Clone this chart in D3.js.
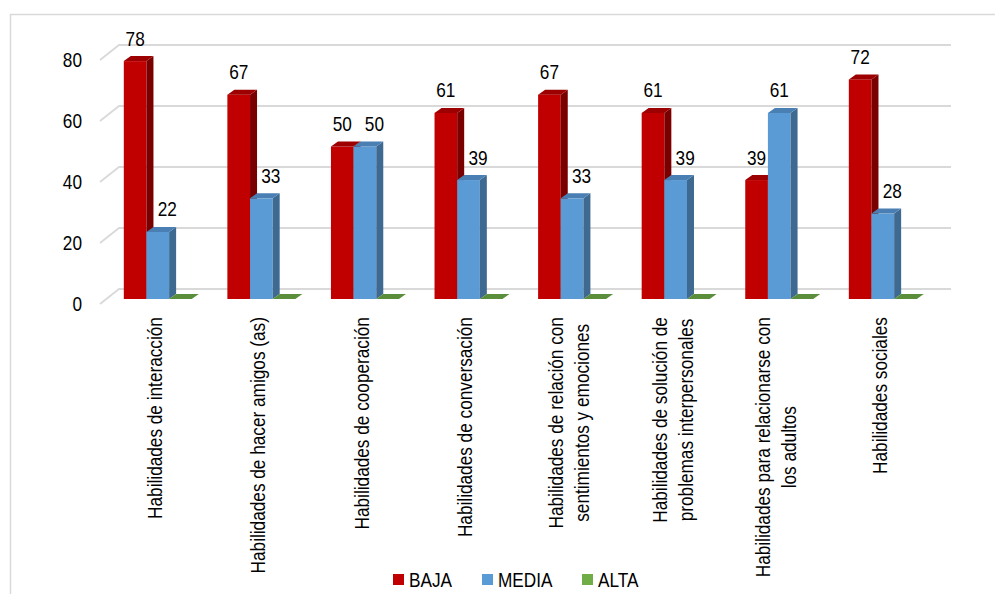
<!DOCTYPE html>
<html>
<head>
<meta charset="utf-8"/>
<script src="https://cdn.jsdelivr.net/npm/d3@7"></script>
<title>Habilidades sociales</title>
<style>
body { margin: 0; background: #fff; }
text { font-family: "Liberation Sans", Arial, sans-serif; font-size: 21px; fill: #000; }
</style>
</head>
<body>
<script>
// data
var categories = [
  ["Habilidades de interacción"],
  ["Habilidades de hacer amigos (as)"],
  ["Habilidades de cooperación"],
  ["Habilidades de conversación"],
  ["Habilidades de relación con", "sentimientos y emociones"],
  ["Habilidades de solución de", "problemas interpersonales"],
  ["Habilidades para relacionarse con", "los adultos"],
  ["Habilidades sociales"]
];
var series = ["BAJA", "MEDIA", "ALTA"];
var baja  = [78, 67, 50, 61, 67, 61, 39, 72];
var media = [22, 33, 50, 39, 33, 39, 61, 28];
var alta  = [0, 0, 0, 0, 0, 0, 0, 0];
var yTicks = [0, 20, 40, 60, 80];

var values = [baja, media, alta];
var faces = {
  BAJA:  { front: "#C00000", side: "#7A0000", top: "#9C0000" },
  MEDIA: { front: "#5B9BD5", side: "#3E6A91", top: "#4A7FB3" },
  ALTA:  { front: "#70AD47", side: "#4E7A31", top: "#5B8E3A" }
};

// the original font is a narrow sans; squeeze Liberation Sans along the text
var narrow = 0.82;
function tf(x, y, rot) {
  return "translate(" + x + "," + y + ")" + (rot ? " rotate(" + rot + ")" : "") + " scale(" + narrow + ",1)";
}

var width = 995, height = 594;
var svg = d3.select("body").append("svg")
  .attr("width", width)
  .attr("height", height);

// chart border (runs off the bottom/right of the frame)
svg.append("rect")
  .attr("x", 10.5).attr("y", 14.5)
  .attr("width", 1000).attr("height", 600)
  .attr("fill", "none").attr("stroke", "#d9d9d9").attr("stroke-width", 1.5);

var y = d3.scaleLinear().domain([0, 80]).range([299, 55]);
var x0 = d3.scaleBand().domain(d3.range(categories.length)).range([106, 934.6]);
var x1 = d3.scaleBand().domain(series).range([17.8, x0.bandwidth() - 17.8]);

// depth of the floor and of each bar
var floorDx = 19, floorDy = -15, frontDx = -6, frontDy = 5;
var barDx = 7, barDy = -5;

// gridlines: slanted floor edge + back wall line
svg.append("g").selectAll("path")
  .data(yTicks)
  .join("path")
  .attr("d", function(t) {
    var yf = y(t) + frontDy, xf = 106 + frontDx;
    return "M" + xf + "," + yf + "L" + (xf + floorDx) + "," + (yf + floorDy) + "L951," + (yf + floorDy);
  })
  .attr("fill", "none").attr("stroke", "#d9d9d9").attr("stroke-width", 1.8);

svg.append("g").selectAll("text")
  .data(yTicks)
  .join("text")
  .attr("transform", function(t) { return tf(82, y(t) + frontDy); })
  .attr("dy", "0.35em")
  .attr("text-anchor", "end")
  .text(function(t) { return t; });

// bars
var bars = [];
categories.forEach(function(c, i) {
  series.forEach(function(s, j) {
    bars.push({ i: i, s: s, v: values[j][i] });
  });
});

var g = svg.append("g").selectAll("g")
  .data(bars)
  .join("g");

function pts(a) { return a.map(function(p) { return p.join(","); }).join(" "); }

g.each(function(d) {
  var sel = d3.select(this);
  var xl = x0(d.i) + x1(d.s), xr = xl + x1.bandwidth();
  var yt = y(d.v), yb = y(0);
  var c = faces[d.s];
  if (d.v > 0) {
    sel.append("rect")
      .attr("x", xl).attr("y", yt)
      .attr("width", xr - xl).attr("height", yb - yt)
      .attr("fill", c.front);
    sel.append("polygon")
      .attr("points", pts([[xr, yt], [xr + barDx, yt + barDy], [xr + barDx, yb + barDy], [xr, yb]]))
      .attr("fill", c.side);
  }
  sel.append("polygon")
    .attr("points", pts([[xl, yt], [xl + barDx, yt + barDy], [xr + barDx, yt + barDy], [xr, yt]]))
    .attr("fill", c.top);
});

// value labels (none for zero values)
svg.append("g").selectAll("text")
  .data(bars.filter(function(d) { return d.v > 0; }))
  .join("text")
  .attr("transform", function(d) {
    var cx = x0(d.i) + x1(d.s) + x1.bandwidth() / 2;
    if (d.s === "MEDIA" && baja[d.i] >= media[d.i]) cx += 9.5;
    return tf(cx, y(d.v) - 15.5);
  })
  .attr("text-anchor", "middle")
  .text(function(d) { return d.v; });

// category labels, rotated, top aligned
var labelTop = 317, lineGap = 26;
var cl = svg.append("g").selectAll("g")
  .data(categories)
  .join("g");

cl.each(function(lines, i) {
  var sel = d3.select(this);
  var cx = x0(i) + x0.bandwidth() / 2 - 3.5;
  var texts = lines.map(function(l) {
    return sel.append("text")
      .attr("text-anchor", "middle")
      .attr("dy", "0.35em")
      .text(l);
  });
  var maxLen = narrow * d3.max(texts, function(t) { return t.node().getComputedTextLength(); });
  texts.forEach(function(t, k) {
    var lx = cx + (k - (lines.length - 1) / 2) * lineGap;
    t.attr("transform", tf(lx, labelTop + maxLen / 2, -90));
  });
});

// legend
var legX = [393, 482, 582];
var leg = svg.append("g").selectAll("g")
  .data(series)
  .join("g")
  .attr("transform", function(d, i) { return "translate(" + legX[i] + ",574)"; });
leg.append("rect")
  .attr("width", 11).attr("height", 11)
  .attr("fill", function(d) { return faces[d].front; });
leg.append("text")
  .attr("transform", tf(16, 6))
  .attr("dy", "0.35em")
  .text(function(d) { return d; });
</script>
</body>
</html>
